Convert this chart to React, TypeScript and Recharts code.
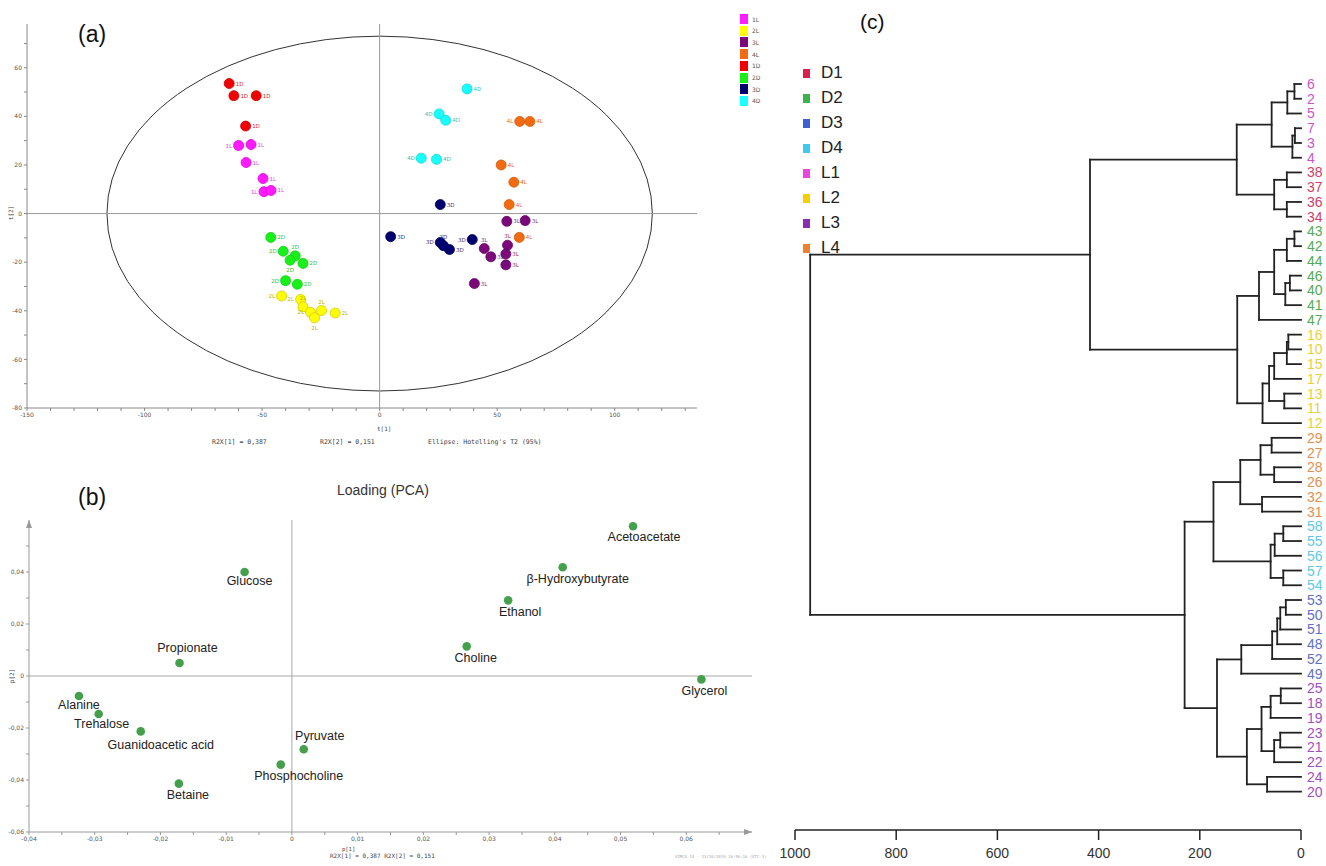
import React from "react";
import {
  ScatterChart,
  Scatter,
  XAxis,
  YAxis,
  ReferenceLine,
  ReferenceArea,
  ReferenceDot,
} from "recharts";

// ---------- (a) PCA scores t[1] / t[2] ----------
const scoreGroups = ["1L", "2L", "3L", "4L", "1D", "2D", "3D", "4D"];
const scoreColors = ["#ff1aff", "#ffff00", "#7a0a7a", "#f26b12", "#f00000", "#19f019", "#000070", "#19ffff"];
const scoreStroke = ["#e000e0", "#d8c800", "#6a006a", "#d85a08", "#d00000", "#10d010", "#000060", "#10d8d8"];
const scoreLabelColors = ["#e040e0", "#c0b000", "#803080", "#e06a20", "#d02020", "#30c030", "#303080", "#30c0c0"];

const t1Group1L = [-60, -54.7, -56.8, -49.6, -49.2, -46.2];
const t2Group1L = [28, 28.4, 21, 14.4, 9, 9.5];
const t1Group2L = [-41.7, -33.6, -32.6, -29.4, -27.7, -24.7, -18.9];
const t2Group2L = [-33.9, -35.3, -38.4, -40.6, -42.9, -39.9, -40.9];
const t1Group3L = [54.1, 61.9, 54.4, 44.5, 47.3, 53.7, 53.7, 40.3];
const t2Group3L = [-3.2, -2.9, -13, -14.4, -17.8, -16.6, -21.1, -28.8];
const t1Group4L = [59.6, 63.9, 51.7, 57.1, 55.1, 59.4];
const t2Group4L = [37.9, 37.9, 20, 12.9, 3.7, -9.8];
const t1Group1D = [-64, -62, -52.5, -57];
const t2Group1D = [53.5, 48.5, 48.5, 36];
const t1Group2D = [-46.3, -41, -35.9, -38.1, -32.6, -40, -35];
const t2Group2D = [-9.8, -15.5, -17.4, -19.2, -20.5, -27.6, -29.1];
const t1Group3D = [25.8, 4.7, 25.8, 27.1, 29.7, 39.4];
const t2Group3D = [3.7, -9.5, -11.9, -13.2, -14.8, -10.7];
const t1Group4D = [37.2, 25.3, 28.1, 17.7, 24.2];
const t2Group4D = [51.3, 41, 38.4, 22.8, 22.3];

const scoreT1 = [t1Group1L, t1Group2L, t1Group3L, t1Group4L, t1Group1D, t1Group2D, t1Group3D, t1Group4D];
const scoreT2 = [t2Group1L, t2Group2L, t2Group3L, t2Group4L, t2Group1D, t2Group2D, t2Group3D, t2Group4D];

// where each point's small tag sits: r = right, l = left, t = above, b = below
const tagSide1L = ["l", "r", "r", "r", "l", "r"];
const tagSide2L = ["l", "l", "t", "l", "b", "t", "r"];
const tagSide3L = ["r", "r", "t", "t", "r", "r", "r", "r"];
const tagSide4L = ["l", "r", "r", "r", "r", "r"];
const tagSide1D = ["r", "r", "r", "r"];
const tagSide2D = ["r", "l", "t", "b", "r", "l", "r"];
const tagSide3D = ["r", "r", "l", "t", "r", "l"];
const tagSide4D = ["r", "l", "r", "l", "r"];
const tagSides = [tagSide1L, tagSide2L, tagSide3L, tagSide4L, tagSide1D, tagSide2D, tagSide3D, tagSide4D];

const aXTicks = [-150, -140, -130, -120, -110, -100, -90, -80, -70, -60, -50, -40, -30, -20, -10, 0, 10, 20, 30, 40, 50, 60, 70, 80, 90, 100, 110, 120, 130];
const aYTicks = [-80, -70, -60, -50, -40, -30, -20, -10, 0, 10, 20, 30, 40, 50, 60, 70];

// ---------- (b) PCA loadings p[1] / p[2] ----------
const loadingNames = ["Glucose", "Propionate", "Alanine", "Trehalose", "Guanidoacetic acid", "Betaine", "Phosphocholine", "Pyruvate", "Choline", "Ethanol", "β-Hydroxybutyrate", "Acetoacetate", "Glycerol"];
const loadingP1 = [-0.0072, -0.0171, -0.0324, -0.0294, -0.023, -0.0172, -0.0017, 0.0018, 0.0266, 0.0329, 0.0412, 0.0519, 0.0623];
const loadingP2 = [0.04, 0.005, -0.0077, -0.0146, -0.0213, -0.0414, -0.0341, -0.0282, 0.0114, 0.0291, 0.0418, 0.0576, -0.0013];
// label placement relative to the dot (px)
const loadingLabelDx = [5, 8, 0, 3, 20, 9, 18, 16, 9, 12, 15, 11, 3];
const loadingLabelDy = [9, -15, 9, 10, 14, 11, 11, -13, 12, 12, 12, 11, 12];

const bXTicks = [-0.04, -0.035, -0.03, -0.025, -0.02, -0.015, -0.01, -0.005, 0, 0.005, 0.01, 0.015, 0.02, 0.025, 0.03, 0.035, 0.04, 0.045, 0.05, 0.055, 0.06, 0.065];
const bYTicks = [-0.06, -0.05, -0.04, -0.03, -0.02, -0.01, 0, 0.01, 0.02, 0.03, 0.04, 0.05];

// ---------- (c) dendrogram ----------
const legendGroups = ["D1", "D2", "D3", "D4", "L1", "L2", "L3", "L4"];
const legendColors = ["#dc1e4a", "#3cb34a", "#3c5fd6", "#3ccbea", "#ee44dd", "#f5d000", "#8a2cb0", "#f08030"];
const leafColors: Record<string, string> = {
  D1: "#d0406a", D2: "#55aa55", D3: "#6070c8", D4: "#60c8e8",
  L1: "#cc55cc", L2: "#e8d040", L3: "#a050c0", L4: "#e09050",
};

const leafOrder = ["6", "2", "5", "7", "3", "4", "38", "37", "36", "34", "43", "42", "44", "46", "40", "41", "47", "16", "10", "15", "17", "13", "11", "12", "29", "27", "28", "26", "32", "31", "58", "55", "56", "57", "54", "53", "50", "51", "48", "52", "49", "25", "18", "19", "23", "21", "22", "24", "20"];
const leafGroups = ["L1", "L1", "L1", "L1", "L1", "L1", "D1", "D1", "D1", "D1", "D2", "D2", "D2", "D2", "D2", "D2", "D2", "L2", "L2", "L2", "L2", "L2", "L2", "L2", "L4", "L4", "L4", "L4", "L4", "L4", "D4", "D4", "D4", "D4", "D4", "D3", "D3", "D3", "D3", "D3", "D3", "L3", "L3", "L3", "L3", "L3", "L3", "L3", "L3"];

// [node id, child a, child b, merge height]
const merges: [string, string, string, number][] = [
  ["m1", "6", "2", 13], ["m2", "m1", "5", 27], ["m3", "7", "3", 12], ["m4", "m3", "4", 17], ["m5", "m2", "m4", 58],
  ["m6", "38", "37", 28], ["m7", "36", "34", 28], ["m8", "m6", "m7", 53], ["m9", "m5", "m8", 127],
  ["m10", "43", "42", 13], ["m11", "m10", "44", 28], ["m12", "46", "40", 22], ["m13", "m12", "41", 31], ["m14", "m11", "m13", 53], ["m15", "m14", "47", 83],
  ["m16", "16", "10", 25], ["m17", "m16", "15", 28], ["m18", "m17", "17", 53], ["m19", "13", "11", 33], ["m20", "m18", "m19", 63], ["m21", "m20", "12", 76],
  ["m22", "m15", "m21", 126], ["m23", "m9", "m22", 417],
  ["m24", "29", "27", 58], ["m25", "28", "26", 53], ["m26", "m24", "m25", 80], ["m27", "32", "31", 77], ["m28", "m26", "m27", 120],
  ["m29", "58", "55", 35], ["m30", "m29", "56", 52], ["m31", "57", "54", 35], ["m32", "m30", "m31", 60], ["m33", "m28", "m32", 173],
  ["m34", "53", "50", 30], ["m35", "m34", "51", 41], ["m36", "m35", "48", 47], ["m37", "m36", "52", 57], ["m38", "m37", "49", 118],
  ["m39", "25", "18", 40], ["m40", "m39", "19", 60], ["m41", "23", "21", 41], ["m42", "m41", "22", 53], ["m43", "m40", "m42", 78], ["m44", "24", "20", 67], ["m45", "m43", "m44", 107],
  ["m46", "m38", "m45", 166], ["m47", "m33", "m46", 230], ["m48", "m23", "m47", 970],
];
const cXTicks = [0, 200, 400, 600, 800, 1000];

// ---------- derived ----------
const scoreSeries = scoreGroups.map((g, gi) =>
  scoreT1[gi].map((x, i) => ({ x, y: scoreT2[gi][i], label: g, side: tagSides[gi][i] }))
);
const loadingData = loadingNames.map((name, i) => ({ x: loadingP1[i], y: loadingP2[i], name, i }));

const nodePos: Record<string, { x: number; y: number }> = {};
leafOrder.forEach((l, i) => (nodePos[l] = { x: 0, y: i }));
const segments: { x1: number; y1: number; x2: number; y2: number }[] = [];
merges.forEach(([id, a, b, h]) => {
  const pa = nodePos[a];
  const pb = nodePos[b];
  segments.push({ x1: pa.x, y1: pa.y, x2: h, y2: pa.y });
  segments.push({ x1: pb.x, y1: pb.y, x2: h, y2: pb.y });
  segments.push({ x1: h, y1: pa.y, x2: h, y2: pb.y });
  nodePos[id] = { x: h, y: (pa.y + pb.y) / 2 };
});
const leafData = leafOrder.map((_, i) => ({ x: 0, y: i }));

const fmtComma = (v: number) => (Math.abs(v) < 1e-9 ? "0" : v.toFixed(2).replace(".", ","));
const tiny = { fontSize: 6, fill: "#555", fontFamily: "DejaVu Sans, sans-serif" };
const mono: React.CSSProperties = { position: "absolute", fontFamily: "DejaVu Sans Mono, monospace", color: "#444", whiteSpace: "nowrap", lineHeight: 1 };

function tagProps(side: string, cx: number, cy: number) {
  if (side === "l") return { x: cx - 6.5, y: cy + 2, textAnchor: "end" as const };
  if (side === "t") return { x: cx, y: cy - 7, textAnchor: "middle" as const };
  if (side === "b") return { x: cx, y: cy + 12, textAnchor: "middle" as const };
  return { x: cx + 6.5, y: cy + 2, textAnchor: "start" as const };
}

function LeafTick(props: any) {
  const i = props.payload.value;
  if (i < 0 || i >= leafOrder.length) return null;
  return (
    <text x={props.x} y={props.y} dy={5} textAnchor="start" fontSize={14} fill={leafColors[leafGroups[i]]} fontFamily="Liberation Sans, Arial, sans-serif">
      {leafOrder[i]}
    </text>
  );
}

export default function App() {
  return (
    <div style={{ position: "absolute", left: 0, top: 0, width: 1326, height: 866, background: "#fff", fontFamily: "Liberation Sans, Arial, sans-serif", overflow: "hidden" }}>
      {/* (a) */}
      <div style={{ position: "absolute", left: 0, top: 0 }}>
        <ScatterChart width={700} height={450} margin={{ top: 24, right: 3, bottom: 22, left: 0 }}>
          <XAxis type="number" dataKey="x" domain={[-150, 135]} allowDataOverflow ticks={aXTicks} interval={0}
            tickFormatter={(v: number) => (v % 50 === 0 ? String(v) : "")} tickSize={3} height={20} stroke="#888" tick={tiny} />
          <YAxis type="number" dataKey="y" domain={[-80, 78]} allowDataOverflow ticks={aYTicks} interval={0}
            tickFormatter={(v: number) => (v % 20 === 0 ? String(v) : "")} tickSize={3} width={27} stroke="#888" tick={tiny} />
          <ReferenceArea x1={-116} x2={116} y1={-73} y2={73}
            shape={(p: any) => (
              <ellipse cx={p.x + p.width / 2} cy={p.y + p.height / 2} rx={p.width / 2} ry={p.height / 2} fill="none" stroke="#333" strokeWidth={1} />
            )} />
          <ReferenceLine x={0} stroke="#999" />
          <ReferenceLine y={0} stroke="#999" />
          {scoreSeries.map((data, gi) => (
            <Scatter key={scoreGroups[gi]} name={scoreGroups[gi]} data={data} isAnimationActive={false}
              shape={(p: any) => (
                <g>
                  <circle cx={p.cx} cy={p.cy} r={5} fill={scoreColors[gi]} stroke={scoreStroke[gi]} strokeWidth={0.8} />
                  <text {...tagProps(p.payload.side, p.cx, p.cy)} fontSize={5.5} fill={scoreLabelColors[gi]} fontFamily="DejaVu Sans, sans-serif">{p.payload.label}</text>
                </g>
              )} />
          ))}
        </ScatterChart>
      </div>
      <div style={{ position: "absolute", left: 78, top: 21, fontSize: 23, color: "#111" }}>(a)</div>
      <div style={{ ...mono, left: 4, top: 210, fontSize: 6, transform: "rotate(-90deg)" }}>t[2]</div>
      <div style={{ ...mono, left: 377, top: 426, fontSize: 6 }}>t[1]</div>
      <div style={{ ...mono, left: 212, top: 439, fontSize: 6.5 }}>R2X[1] = 0,387</div>
      <div style={{ ...mono, left: 320, top: 439, fontSize: 6.5 }}>R2X[2] = 0,151</div>
      <div style={{ ...mono, left: 428, top: 439, fontSize: 6.5 }}>Ellipse: Hotelling's T2 (95%)</div>
      {scoreGroups.map((g, gi) => (
        <div key={g} style={{ position: "absolute", left: 740, top: 14 + gi * 11.7, display: "flex", alignItems: "center" }}>
          <div style={{ width: 8, height: 10, background: scoreColors[gi] }} />
          <span style={{ marginLeft: 4, fontSize: 6, color: "#555", fontFamily: "DejaVu Sans, sans-serif" }}>{g}</span>
        </div>
      ))}

      {/* (b) */}
      <div style={{ position: "absolute", left: 0, top: 470 }}>
        <ScatterChart width={780} height={396} margin={{ top: 50, right: 28, bottom: 14, left: 0 }}>
          <XAxis type="number" dataKey="x" domain={[-0.04, 0.07]} allowDataOverflow ticks={bXTicks} interval={0}
            tickFormatter={(v: number) => (Math.round(v * 1000) % 10 === 0 ? fmtComma(v) : "")} tickSize={3} height={20} stroke="#999" tick={tiny} />
          <YAxis type="number" dataKey="y" domain={[-0.06, 0.06]} allowDataOverflow ticks={bYTicks} interval={0}
            tickFormatter={(v: number) => (Math.round(v * 100) % 2 === 0 ? fmtComma(v) : "")} tickSize={3} width={29} stroke="#999" tick={tiny} />
          <ReferenceLine x={0} stroke="#aaa" />
          <ReferenceLine y={0} stroke="#aaa" />
          <ReferenceDot x={0.07} y={-0.06} ifOverflow="visible"
            shape={(p: any) => <polygon points={`${p.cx},${p.cy} ${p.cx - 8},${p.cy - 3} ${p.cx - 8},${p.cy + 3}`} fill="#999" />} />
          <ReferenceDot x={-0.04} y={0.06} ifOverflow="visible"
            shape={(p: any) => <polygon points={`${p.cx},${p.cy} ${p.cx - 3},${p.cy + 8} ${p.cx + 3},${p.cy + 8}`} fill="#999" />} />
          <Scatter data={loadingData} isAnimationActive={false}
            shape={(p: any) => (
              <g>
                <circle cx={p.cx} cy={p.cy} r={4.3} fill="#45a04e" />
                <text x={p.cx + loadingLabelDx[p.payload.i]} y={p.cy + loadingLabelDy[p.payload.i]} textAnchor="middle" dominantBaseline="central"
                  fontSize={12.5} fill="#222" fontFamily="Liberation Sans, Arial, sans-serif">{p.payload.name}</text>
              </g>
            )} />
        </ScatterChart>
      </div>
      <div style={{ position: "absolute", left: 78, top: 484, fontSize: 23, color: "#111" }}>(b)</div>
      <div style={{ position: "absolute", left: 337, top: 482, fontSize: 14, color: "#333" }}>Loading (PCA)</div>
      <div style={{ ...mono, left: 5, top: 673, fontSize: 6, transform: "rotate(-90deg)" }}>p[2]</div>
      <div style={{ ...mono, left: 342, top: 847, fontSize: 5.5 }}>p[1]</div>
      <div style={{ ...mono, left: 330, top: 853, fontSize: 6 }}>R2X[1] = 0,387 R2X[2] = 0,151</div>
      <div style={{ ...mono, left: 675, top: 855, fontSize: 4, color: "#aaa" }}>SIMCA 14 - 31/10/2019 16:50:16 (UTC-3)</div>

      {/* (c) */}
      <div style={{ position: "absolute", left: 770, top: 0 }}>
        <ScatterChart width={556} height={866} margin={{ top: 84, right: 0, bottom: 0, left: 25 }}>
          <XAxis type="number" dataKey="x" domain={[0, 1000]} reversed allowDataOverflow ticks={cXTicks} interval={0}
            tickSize={10} tickMargin={8} height={36} stroke="#222" strokeWidth={1.5}
            tick={{ fontSize: 14, fill: "#333", fontFamily: "Liberation Sans, Arial, sans-serif" }} />
          <YAxis type="number" dataKey="y" orientation="right" domain={[0, 50.6]} reversed allowDataOverflow
            ticks={leafOrder.map((_, i) => i)} interval={0} width={25} axisLine={false} tickLine={false} tickSize={4} tick={<LeafTick />} />
          {segments.map((s, k) => (
            <ReferenceLine key={k} segment={[{ x: s.x1, y: s.y1 }, { x: s.x2, y: s.y2 }]} stroke="#222" strokeWidth={1.8} strokeLinecap="square" />
          ))}
          <Scatter data={leafData} isAnimationActive={false} shape={() => <g />} />
        </ScatterChart>
      </div>
      <div style={{ position: "absolute", left: 860, top: 10, fontSize: 21, color: "#111" }}>(c)</div>
      {legendGroups.map((g, gi) => (
        <div key={g} style={{ position: "absolute", left: 803, top: 63 + gi * 25, display: "flex", alignItems: "center" }}>
          <div style={{ width: 7, height: 9, background: legendColors[gi] }} />
          <span style={{ marginLeft: 11, fontSize: 17, color: "#222" }}>{g}</span>
        </div>
      ))}
    </div>
  );
}
